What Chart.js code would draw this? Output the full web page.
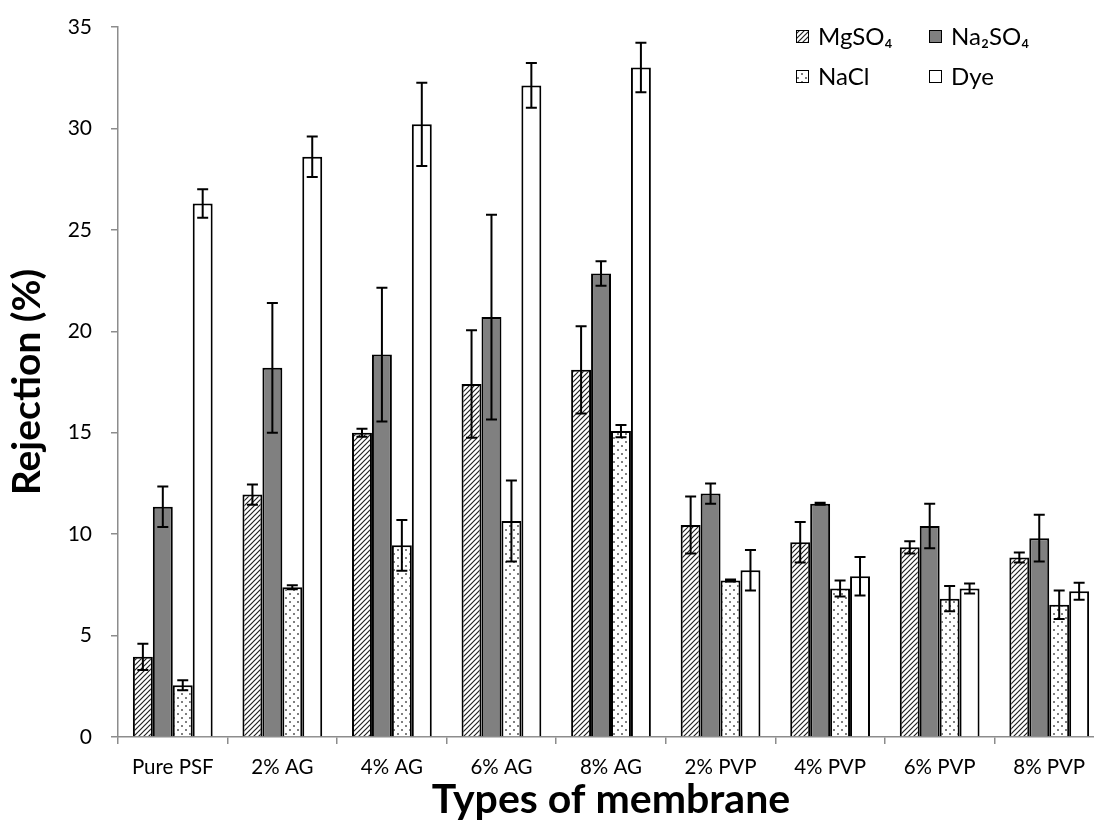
<!DOCTYPE html>
<html>
<head>
<meta charset="utf-8">
<script src="https://cdn.jsdelivr.net/npm/chart.js@4"></script>
<style>
  html, body { margin: 0; padding: 0; background: #fff; overflow: hidden; }
  #wrap { width: 1106px; height: 828px; }
</style>
</head>
<body>
<div id="wrap"><canvas id="rejeicao"></canvas></div>
<script>
// dados
const membranes = ["Pure PSF", "2% AG", "4% AG", "6% AG", "8% AG", "2% PVP", "4% PVP", "6% PVP", "8% PVP"];
const mgso4 = [3.95, 11.95, 15.0, 17.4, 18.1, 10.45, 9.6, 9.35, 8.85];
const mgso4Err = [0.65, 0.5, 0.2, 2.65, 2.15, 1.4, 1.0, 0.3, 0.25];
const na2so4 = [11.35, 18.2, 18.85, 20.7, 22.85, 12.0, 11.5, 10.4, 9.8];
const na2so4Err = [1.0, 3.2, 3.3, 5.05, 0.6, 0.5, 0.05, 1.1, 1.15];
const nacl = [2.55, 7.38, 9.45, 10.65, 15.08, 7.72, 7.32, 6.82, 6.52];
const naclErr = [0.25, 0.1, 1.25, 2.0, 0.3, 0.05, 0.4, 0.62, 0.7];
const dye = [26.3, 28.6, 30.2, 32.12, 33.0, 8.22, 7.92, 7.32, 7.18];
const dyeErr = [0.7, 1.0, 2.05, 1.1, 1.22, 1.0, 0.95, 0.25, 0.42];
const yTicks = [0, 5, 10, 15, 20, 25, 30, 35];

const fonte = "Lato, Carlito, 'Open Sans', sans-serif";

// padrões das barras
function hachura() {
  const c = document.createElement("canvas");
  c.width = 5; c.height = 5;
  const g = c.getContext("2d");
  g.fillStyle = "#fff"; g.fillRect(0, 0, 5, 5);
  g.strokeStyle = "#222"; g.lineWidth = 1.2;
  g.beginPath();
  g.moveTo(0, 5); g.lineTo(5, 0);
  g.moveTo(-1, 1); g.lineTo(1, -1);
  g.moveTo(4, 6); g.lineTo(6, 4);
  g.stroke();
  return g.createPattern(c, "repeat");
}
function pontos() {
  const c = document.createElement("canvas");
  c.width = 8; c.height = 8;
  const g = c.getContext("2d");
  g.fillStyle = "#fff"; g.fillRect(0, 0, 8, 8);
  g.fillStyle = "#555";
  g.beginPath(); g.arc(2, 2, 1, 0, Math.PI * 2); g.fill();
  g.beginPath(); g.arc(6, 6, 1, 0, Math.PI * 2); g.fill();
  return g.createPattern(c, "repeat");
}

const series = [
  { label: "MgSO\u2084", data: mgso4, err: mgso4Err, fill: hachura() },
  { label: "Na\u2082SO\u2084", data: na2so4, err: na2so4Err, fill: "#808080" },
  { label: "NaCl", data: nacl, err: naclErr, fill: pontos() },
  { label: "Dye", data: dye, err: dyeErr, fill: "#ffffff" }
];

// barras de erro
const barrasErro = {
  id: "barrasErro",
  afterDatasetsDraw(chart) {
    const ctx = chart.ctx;
    const y = chart.scales.y;
    ctx.save();
    ctx.strokeStyle = "#000";
    ctx.lineWidth = 2;
    chart.data.datasets.forEach((ds, i) => {
      chart.getDatasetMeta(i).data.forEach((bar, j) => {
        const v = ds.data[j], e = ds.err[j];
        const y1 = y.getPixelForValue(v + e);
        const y2 = y.getPixelForValue(v - e);
        const x = bar.x;
        ctx.beginPath();
        ctx.moveTo(x, y1); ctx.lineTo(x, y2);
        ctx.moveTo(x - 5.5, y1); ctx.lineTo(x + 5.5, y1);
        ctx.moveTo(x - 5.5, y2); ctx.lineTo(x + 5.5, y2);
        ctx.stroke();
      });
    });
    ctx.restore();
  }
};

// legenda 2x2 dentro da área
const legenda = {
  id: "legenda",
  afterDraw(chart) {
    const ctx = chart.ctx;
    const pos = [[796, 37], [929, 37], [796, 77], [929, 77]];
    ctx.save();
    ctx.font = "24px " + fonte;
    ctx.textBaseline = "middle";
    chart.data.datasets.forEach((ds, i) => {
      const [x, yy] = pos[i];
      ctx.fillStyle = ds.backgroundColor;
      ctx.fillRect(x, yy - 7, 13, 13);
      ctx.strokeStyle = "#000";
      ctx.lineWidth = 1;
      ctx.strokeRect(x + 0.5, yy - 6.5, 12, 12);
      ctx.fillStyle = "#000";
      ctx.fillText(ds.label, x + 22, yy);
    });
    ctx.restore();
  }
};

new Chart(document.getElementById("rejeicao"), {
  type: "bar",
  data: {
    labels: membranes,
    datasets: series.map((s) => ({
      label: s.label,
      data: s.data,
      err: s.err,
      backgroundColor: s.fill,
      borderColor: "#000",
      borderWidth: 2,
      borderSkipped: "bottom",
      barPercentage: 1,
      categoryPercentage: 0.728
    }))
  },
  options: {
    responsive: true,
    maintainAspectRatio: false,
    animation: false,
    layout: { padding: { top: 27, right: 2, left: 0, bottom: 0 } },
    scales: {
      x: {
        afterFit: (s) => { s.height = 91; },
        grid: { drawOnChartArea: false, drawTicks: true, tickLength: 7, color: "#8c8c8c", lineWidth: 1.5 },
        border: { color: "#8c8c8c", width: 1.5 },
        ticks: { color: "#000", font: { family: fonte, size: 20.5 }, padding: 11, maxRotation: 0 },
        title: { display: true, text: "Types of membrane", color: "#000", font: { family: fonte, size: 41, weight: "bold" }, padding: { top: 0 } }
      },
      y: {
        min: 0,
        max: 35,
        afterFit: (s) => { s.width = 118; s.paddingTop = 0; s.paddingBottom = 0; },
        afterBuildTicks: (s) => { s.ticks = yTicks.map((v) => ({ value: v })); },
        grid: { drawOnChartArea: false, drawTicks: true, tickLength: 7, color: "#8c8c8c", lineWidth: 1.5 },
        border: { color: "#8c8c8c", width: 1.5 },
        ticks: { color: "#000", font: { family: fonte, size: 21 }, padding: 19 },
        title: { display: true, text: "Rejection (%)", color: "#000", font: { family: fonte, size: 39, weight: "bold" }, padding: { bottom: 0 } }
      }
    },
    plugins: {
      legend: { display: false },
      tooltip: { enabled: false }
    }
  },
  plugins: [barrasErro, legenda]
});
</script>
</body>
</html>
